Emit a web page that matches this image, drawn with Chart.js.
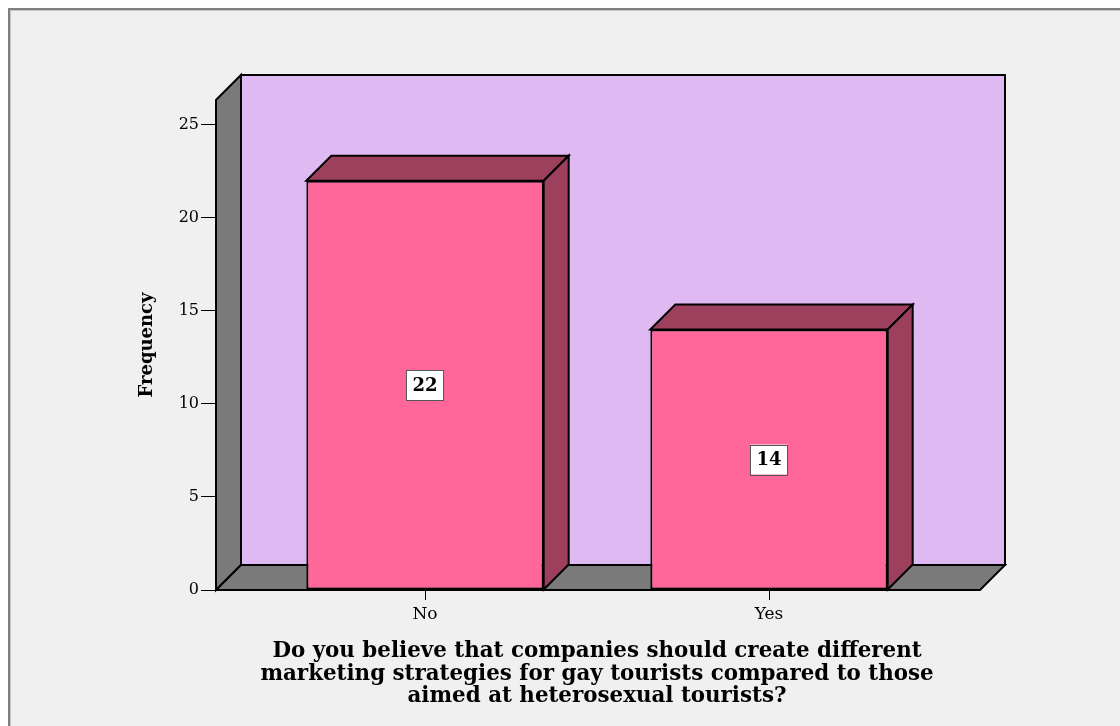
<!DOCTYPE html>
<html>
<head>
<meta charset="utf-8">
<title>Frequency chart</title>
<script src="https://cdn.jsdelivr.net/npm/chart.js@4.4.1/dist/chart.umd.min.js"></script>
<style>
    html, body { margin: 0; padding: 0; background: #ffffff; }
    #wrap { width: 1120px; height: 726px; }
</style>
</head>
<body>
<div id="wrap"><canvas id="freqChart" width="1120" height="726"></canvas></div>
<script>
// Dados do gráfico
const categorias = ['No', 'Yes'];
const frequencias = [22, 14];
const yTicks = [0, 5, 10, 15, 20, 25];
const tituloX = [
    'Do you believe that companies should create different',
    'marketing strategies for gay tourists compared to those',
    'aimed at heterosexual tourists?'
];
const tituloY = 'Frequency';

(function() {
    const DEPTH = 25;          // profundidade 3D (px)
    const WALL_LEFT = 37;      // parede lateral fora da area do grafico
    const WALL_RIGHT = 39;
    const FONTE = '"DejaVu Serif", serif';
    const cores = {
        fundo: '#f0f0f0',
        parede: '#dfb9f2',
        cinza: '#7a7a7a',
        barra: '#ff6699',
        barraEscura: '#9c405e'
    };

    function poly(ctx, pts, fill) {
        ctx.beginPath();
        ctx.moveTo(pts[0][0], pts[0][1]);
        for (let i = 1; i < pts.length; i++) ctx.lineTo(pts[i][0], pts[i][1]);
        ctx.closePath();
        ctx.fillStyle = fill;
        ctx.fill();
        ctx.stroke();
    }

    // Moldura e fundo
    const fundoPlugin = {
        id: 'fundo',
        beforeDraw(chart) {
            const ctx = chart.ctx;
            ctx.save();
            ctx.fillStyle = '#ffffff';
            ctx.fillRect(0, 0, chart.width, chart.height);
            ctx.fillStyle = cores.fundo;
            ctx.fillRect(8, 8, chart.width - 8, chart.height - 8);
            ctx.fillStyle = '#808080';
            ctx.fillRect(8, 8, chart.width - 8, 2);
            ctx.fillRect(8, 8, 2, chart.height - 8);
            ctx.fillStyle = '#c4c4c4';
            ctx.fillRect(10, 10, chart.width - 10, 1);
            ctx.fillRect(10, 10, 1, chart.height - 10);
            ctx.restore();
        }
    };

    // Paredes e piso 3D
    const paredesPlugin = {
        id: 'paredes',
        beforeDatasetsDraw(chart) {
            const a = chart.chartArea;
            const ctx = chart.ctx;
            const L = a.left - WALL_LEFT, R = a.right + WALL_RIGHT;
            const T = a.top, B = a.bottom, D = DEPTH;
            ctx.save();
            ctx.lineWidth = 2;
            ctx.strokeStyle = '#000000';
            ctx.lineJoin = 'miter';
            poly(ctx, [[L + D, T - D], [R + D, T - D], [R + D, B - D], [L + D, B - D]], cores.parede);
            poly(ctx, [[L, B], [L, T], [L + D, T - D], [L + D, B - D]], cores.cinza);
            poly(ctx, [[L, B], [L + D, B - D], [R + D, B - D], [R, B]], cores.cinza);
            ctx.restore();
        },
        afterDatasetsDraw(chart) {
            const ctx = chart.ctx;
            const D = DEPTH;
            const meta = chart.getDatasetMeta(0);
            ctx.save();
            ctx.lineWidth = 2;
            ctx.strokeStyle = '#000000';
            meta.data.forEach((bar, i) => {
                const p = bar.getProps(['x', 'y', 'base', 'width'], true);
                const l = p.x - p.width / 2, r = p.x + p.width / 2;
                poly(ctx, [[l, p.y], [l + D, p.y - D], [r + D, p.y - D], [r, p.y]], cores.barraEscura);
                poly(ctx, [[r, p.y], [r + D, p.y - D], [r + D, p.base - D], [r, p.base]], cores.barraEscura);

                // Rótulo com o valor
                const texto = String(frequencias[i]);
                ctx.font = 'bold 18px ' + FONTE;
                const w = ctx.measureText(texto).width + 12;
                const h = 30;
                const cy = (p.y + p.base) / 2;
                ctx.fillStyle = '#ffffff';
                ctx.fillRect(p.x - w / 2, cy - h / 2, w, h);
                ctx.lineWidth = 1;
                ctx.strokeStyle = '#555555';
                ctx.strokeRect(Math.round(p.x - w / 2) + 0.5, Math.round(cy - h / 2) + 0.5, Math.round(w), h);
                ctx.fillStyle = '#000000';
                ctx.textAlign = 'center';
                ctx.textBaseline = 'middle';
                ctx.fillText(texto, p.x, cy + 1);
                ctx.lineWidth = 2;
                ctx.strokeStyle = '#000000';
            });
            ctx.restore();
        }
    };

    const ctx = document.getElementById('freqChart');
    new Chart(ctx, {
        type: 'bar',
        data: {
            labels: categorias,
            datasets: [{
                label: tituloY,
                data: frequencias,
                backgroundColor: cores.barra,
                borderColor: '#000000',
                borderWidth: 2,
                borderSkipped: false,
                categoryPercentage: 1,
                barPercentage: 0.69
            }]
        },
        options: {
            responsive: false,
            devicePixelRatio: 1,
            animation: false,
            layout: { padding: { left: 0, right: 179, top: 100, bottom: 18 } },
            plugins: {
                legend: { display: false },
                tooltip: { enabled: false }
            },
            scales: {
                x: {
                    offset: true,
                    border: { display: false },
                    grid: { offset: false, drawOnChartArea: false, tickLength: 10, color: '#000000', lineWidth: 1 },
                    ticks: { color: '#000000', padding: 4, font: { family: FONTE, size: 17 } },
                    title: {
                        display: true,
                        text: tituloX,
                        color: '#000000',
                        padding: { top: 14, bottom: 0 },
                        font: { family: FONTE, size: 21.4, weight: 'bold', lineHeight: 1.05 }
                    },
                    afterFit(scale) { scale.height = 118; }
                },
                y: {
                    min: 0,
                    max: 26.34,
                    border: { display: false },
                    grid: { drawOnChartArea: false, tickLength: 52, color: '#000000', lineWidth: 1 },
                    afterBuildTicks(scale) { scale.ticks = yTicks.map(v => ({ value: v })); },
                    ticks: { color: '#000000', padding: 2, font: { family: FONTE, size: 16 } },
                    title: {
                        display: true,
                        text: tituloY,
                        color: '#000000',
                        padding: { top: 137, bottom: 0 },
                        font: { family: FONTE, size: 18, weight: 'bold' }
                    },
                    afterFit(scale) { scale.width = 253; }
                }
            }
        },
        plugins: [fundoPlugin, paredesPlugin]
    });
})();
</script>
</body>
</html>
